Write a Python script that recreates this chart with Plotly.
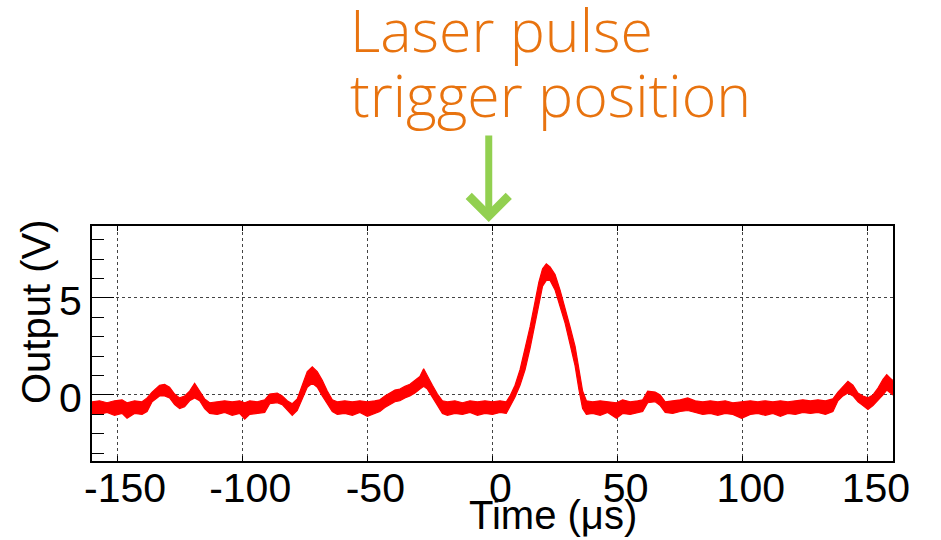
import plotly.graph_objects as go

# Time axis samples (microseconds) and the upper / lower edges of the noisy trace band (V)
t_us = [-160, -157, -154, -151, -148, -146, -143, -140, -138, -136,
        -133, -131, -129, -127, -125, -123, -121, -119, -117, -115,
        -113, -110, -107, -104, -101, -99, -97, -94, -91, -89,
        -86, -84, -82, -80, -78, -76, -74, -72, -70, -68,
        -66, -64, -62, -59, -56, -53, -50, -47, -45, -43,
        -41, -39, -37, -35, -33, -31, -29, -27.5, -26, -24,
        -22, -20, -18, -15, -12, -9, -6, -3, 0, 3,
        5.5, 7, 9, 11, 13, 15, 17, 18.5, 20, 21.5,
        23, 25, 27, 29, 31, 33, 34.5, 36, 37.5, 40,
        43, 46, 49.5, 52, 55, 58, 60, 62, 65, 67,
        69, 72, 75, 78, 81, 84, 87, 90, 93, 96,
        99.5, 103, 106, 109, 112, 115, 118, 121, 124, 127,
        130, 133, 136, 138, 140, 142, 144, 146, 148, 150,
        152, 154, 156, 157.5, 159, 160]

v_low = [-0.95, -1.00, -0.90, -1.05, -0.95, -1.20, -0.95, -1.00, -0.85, -0.35,
         -0.05, -0.05, -0.15, -0.50, -0.70, -0.60, -0.30, -0.15, -0.30, -0.70,
         -0.95, -1.00, -0.90, -1.05, -0.95, -1.25, -1.00, -0.95, -0.90, -0.45,
         -0.40, -0.50, -0.80, -1.05, -0.80, -0.20, 0.40, 0.60, 0.40, -0.05,
         -0.45, -0.85, -1.00, -0.95, -1.05, -0.90, -1.10, -0.95, -0.85, -0.65,
         -0.50, -0.35, -0.30, -0.15, -0.05, 0.10, 0.30, 0.45, 0.30, -0.10,
         -0.55, -0.95, -1.05, -0.95, -1.00, -0.90, -1.05, -0.95, -1.00, -0.90,
         -0.95, -0.60, -0.10, 0.50, 1.30, 2.40, 3.70, 4.70, 5.60, 5.90,
         5.90, 5.40, 4.60, 3.70, 2.60, 1.50, 0.30, -0.70, -1.00, -0.95,
         -1.05, -0.90, -1.20, -0.95, -1.00, -0.90, -0.85, -0.40, -0.35, -0.55,
         -0.90, -0.95, -0.85, -0.80, -0.90, -1.00, -0.95, -1.05, -0.95, -1.00,
         -1.20, -1.00, -0.95, -1.05, -0.95, -1.10, -0.95, -1.00, -0.90, -0.95,
         -0.90, -1.00, -0.85, -0.30, -0.05, 0.10, -0.05, -0.35, -0.55, -0.75,
         -0.55, -0.30, 0.00, 0.25, 0.10, 0.00]

v_high = [-0.35, -0.30, -0.40, -0.30, -0.25, -0.40, -0.30, -0.35, -0.15, 0.15,
          0.50, 0.55, 0.40, 0.05, -0.15, -0.05, 0.20, 0.60, 0.20, -0.20,
          -0.40, -0.35, -0.30, -0.35, -0.30, -0.40, -0.30, -0.35, -0.25, 0.05,
          0.10, -0.05, -0.30, -0.45, -0.20, 0.50, 1.20, 1.45, 1.20, 0.75,
          0.20, -0.25, -0.35, -0.30, -0.35, -0.30, -0.35, -0.30, -0.25, -0.05,
          0.10, 0.25, 0.30, 0.45, 0.55, 0.75, 0.95, 1.35, 0.95, 0.50,
          0.05, -0.30, -0.35, -0.30, -0.40, -0.30, -0.35, -0.30, -0.35, -0.30,
          -0.35, -0.05, 0.50, 1.30, 2.40, 3.50, 4.80, 5.80, 6.50, 6.75,
          6.60, 6.20, 5.40, 4.50, 3.50, 2.50, 1.40, 0.20, -0.30, -0.35,
          -0.30, -0.35, -0.40, -0.25, -0.35, -0.30, -0.25, 0.20, 0.15, 0.00,
          -0.35, -0.30, -0.25, -0.15, -0.30, -0.35, -0.30, -0.35, -0.30, -0.40,
          -0.35, -0.30, -0.35, -0.30, -0.35, -0.30, -0.35, -0.30, -0.25, -0.30,
          -0.25, -0.30, -0.20, 0.15, 0.45, 0.70, 0.50, 0.10, -0.05, -0.15,
          0.00, 0.35, 0.80, 1.05, 0.85, 0.75]

x_ticks = [-150, -100, -50, 0, 50, 100, 150]
x_tick_labels = ["-150", "-100", "-50", "0", "50", "100", "150"]
trigger_time_us = -1.5

assert len(t_us) == len(v_low) == len(v_high)

RED = "#FF0000"
ORANGE = "#E8730F"
GREEN = "#92D050"

fig = go.Figure()
fig.add_trace(go.Scatter(x=t_us, y=v_low, mode="lines",
                         line=dict(color=RED, width=1.2), hoverinfo="skip",
                         showlegend=False))
fig.add_trace(go.Scatter(x=t_us, y=v_high, mode="lines", fill="tonexty",
                         fillcolor=RED, line=dict(color=RED, width=1.2),
                         hoverinfo="skip", showlegend=False))

W, H = 941, 540
L, R, T, B = 92, 48, 226, 79
pw, ph = W - L - R, H - T - B

def px(xp):
    return (xp - L) / pw

def py(yp):
    return (H - B - yp) / ph

tick_font = dict(family="Liberation Sans, Arial, sans-serif", size=41, color="black")

fig.update_layout(
    width=W, height=H,
    margin=dict(l=L, r=R, t=T, b=B, autoexpand=False),
    paper_bgcolor="white", plot_bgcolor="white",
    xaxis=dict(range=[-160, 160], tickvals=x_ticks, ticktext=x_tick_labels,
               ticks="inside", ticklen=5, tickwidth=1, tickcolor="black",
               showline=True, linecolor="black", linewidth=2, mirror="allticks",
               showgrid=True, gridcolor="#444444", gridwidth=1, griddash="dot",
               zeroline=False, tickfont=tick_font, ticklabelshift=8,
               ticklabelstandoff=-10),
    yaxis=dict(range=[-3.4, 8.7], tick0=0, dtick=5,
               ticks="inside", ticklen=22, tickwidth=1, tickcolor="black",
               minor=dict(ticks="inside", ticklen=12, dtick=1, tick0=0,
                          tickcolor="black", tickwidth=1, showgrid=False),
               showline=True, linecolor="black", linewidth=2, mirror=True,
               showgrid=True, gridcolor="#444444", gridwidth=1, griddash="dot",
               zeroline=False, tickfont=tick_font, ticklabelshift=3),
)

label_font = dict(family="Liberation Sans, Arial, sans-serif", size=40, color="black")
title_font = dict(family="Open Sans, Noto Sans, sans-serif", size=59, color=ORANGE, weight=300)

fig.add_annotation(text="Time (\u03bcs)", xref="paper", yref="paper",
                   x=px(553), y=py(515), xanchor="center", yanchor="middle",
                   showarrow=False, font=label_font)
fig.add_annotation(text="Output (V)", xref="paper", yref="paper",
                   x=px(36), y=py(312), xanchor="center", yanchor="middle",
                   textangle=-90, showarrow=False, font=label_font)
fig.add_annotation(text="Laser pulse", xref="paper", yref="paper",
                   x=px(348), y=py(29), xanchor="left", yanchor="middle",
                   showarrow=False, font=title_font)
fig.add_annotation(text="trigger position", xref="paper", yref="paper",
                   x=px(348), y=py(94), xanchor="left", yanchor="middle",
                   showarrow=False, font=title_font)
fig.add_annotation(text="", x=trigger_time_us, xref="x", y=py(222), yref="paper",
                   ax=0, ay=-88, showarrow=True, arrowhead=4, arrowsize=1.1,
                   arrowwidth=7, arrowcolor=GREEN, standoff=0)

fig.write_html("out.html")
